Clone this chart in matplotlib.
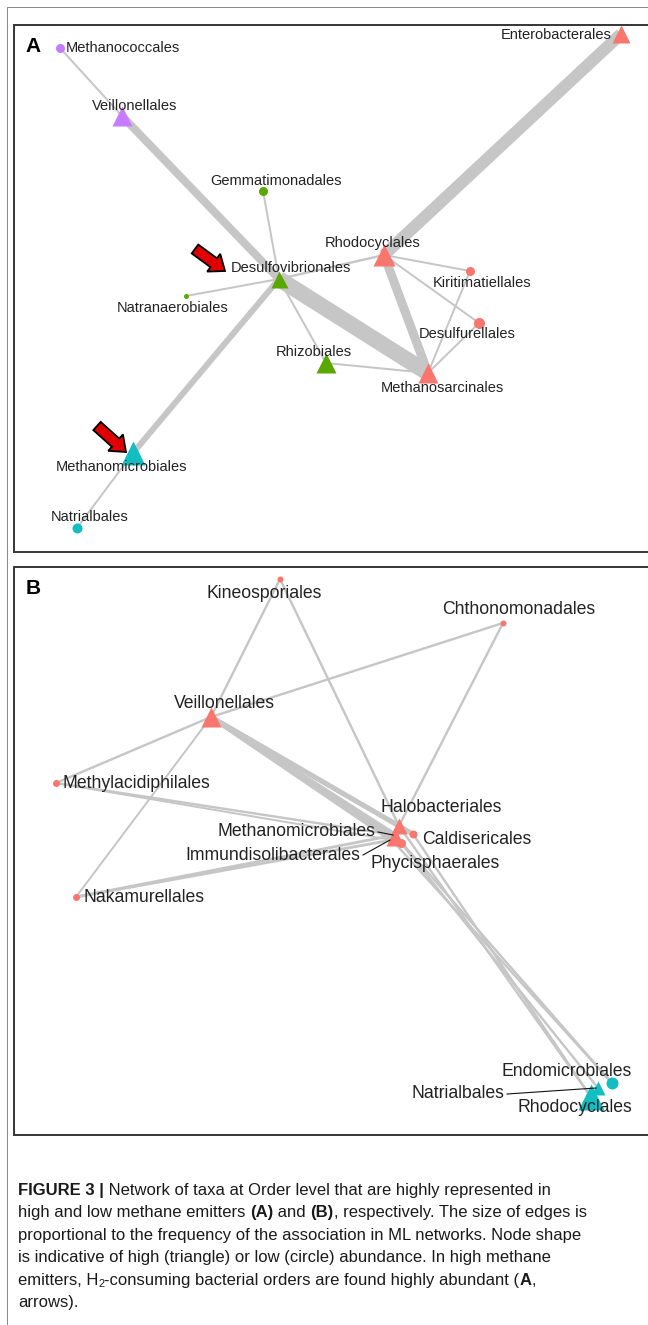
import matplotlib
matplotlib.use("Agg")
import matplotlib.pyplot as plt
from matplotlib.patches import FancyArrow

plt.rcParams['font.family'] = ['Liberation Sans', 'DejaVu Sans']

PT = 0.72  # points per pixel at dpi=100

# colours of the taxonomic groups
COLORS = {"red": "#F8766D", "green": "#5AA700", "cyan": "#12BEC2", "violet": "#C77CFF"}
EDGE_COLOR = "#C6C6C6"

# ---------------- panel A : high methane emitters ----------------
a_names = ["Methanococcales", "Veillonellales", "Enterobacterales", "Gemmatimonadales",
           "Rhodocyclales", "Desulfovibrionales", "Kiritimatiellales", "Natranaerobiales",
           "Desulfurellales", "Rhizobiales", "Methanosarcinales", "Methanomicrobiales",
           "Natrialbales"]
a_x = [46, 108, 607, 249, 370, 265, 456, 172, 465, 312, 414, 119, 63]
a_y = [23, 91, 9, 166, 230, 254, 246, 271, 298, 338, 348, 428, 503]
a_group = ["violet", "violet", "red", "green", "red", "green", "red", "green",
           "red", "green", "red", "cyan", "cyan"]
a_abund = ["low", "high", "high", "low", "high", "high", "low", "low",
           "low", "high", "high", "high", "low"]
a_size = [9, 20, 18, 9, 22, 17, 9, 5, 11, 20, 20, 24, 10]
a_edges = [("Methanococcales", "Veillonellales", 1),
           ("Veillonellales", "Desulfovibrionales", 4),
           ("Enterobacterales", "Rhodocyclales", 6),
           ("Gemmatimonadales", "Desulfovibrionales", 1),
           ("Desulfovibrionales", "Rhodocyclales", 1.2),
           ("Desulfovibrionales", "Methanosarcinales", 8),
           ("Desulfovibrionales", "Natranaerobiales", 1),
           ("Desulfovibrionales", "Rhizobiales", 1),
           ("Desulfovibrionales", "Methanomicrobiales", 3),
           ("Rhodocyclales", "Methanosarcinales", 4.5),
           ("Rhodocyclales", "Kiritimatiellales", 1),
           ("Rhodocyclales", "Desulfurellales", 1),
           ("Kiritimatiellales", "Methanosarcinales", 1),
           ("Desulfurellales", "Methanosarcinales", 1),
           ("Rhizobiales", "Methanosarcinales", 1),
           ("Methanomicrobiales", "Natrialbales", 1)]
# label placement (dx, dy, ha) relative to node
a_labels = [(6, 0, "left"), (13, -10, "center"), (-9, 1, "right"), (13, -10, "center"),
            (-11, -12, "center"), (12, -11, "center"), (12, 12, "center"), (-13, 12, "center"),
            (-12, 11, "center"), (-12, -11, "center"), (14, 15, "center"), (-12, 14, "center"),
            (13, -11, "center")]
# arrows marking H2-consuming orders (tail x, tail y, tip x, tip y)
a_arrows = [(181, 224, 211, 246), (83, 401, 112, 427)]

# ---------------- panel B : low methane emitters ----------------
b_names = ["Kineosporiales", "Chthonomonadales", "Veillonellales", "Methylacidiphilales",
           "Halobacteriales", "Methanomicrobiales", "Caldisericales", "Immundisolibacterales",
           "Phycisphaerales", "Nakamurellales", "Endomicrobiales", "Natrialbales",
           "Rhodocyclales"]
b_x = [266, 489, 197, 42, 385, 381, 399, 378, 387, 62, 598, 584, 577]
b_y = [12, 56, 150, 216, 259, 268, 267, 273, 276, 330, 516, 521, 530]
b_group = ["red"] * 10 + ["cyan"] * 3
b_abund = ["low", "low", "high", "low", "high", "high", "low", "high",
           "low", "low", "low", "high", "high"]
b_size = [6, 6, 20, 7, 16, 14, 8, 12, 9, 7, 12, 14, 26]
b_edges = [("Kineosporiales", "Veillonellales", 1.2),
           ("Kineosporiales", "Halobacteriales", 1.2),
           ("Chthonomonadales", "Veillonellales", 1.2),
           ("Chthonomonadales", "Halobacteriales", 1.2),
           ("Veillonellales", "Methylacidiphilales", 1.2),
           ("Veillonellales", "Nakamurellales", 1),
           ("Veillonellales", "Halobacteriales", 2.4),
           ("Veillonellales", "Methanomicrobiales", 2.4),
           ("Veillonellales", "Immundisolibacterales", 2.4),
           ("Veillonellales", "Phycisphaerales", 2.4),
           ("Veillonellales", "Caldisericales", 2.4),
           ("Methylacidiphilales", "Methanomicrobiales", 1.2),
           ("Methylacidiphilales", "Immundisolibacterales", 1),
           ("Nakamurellales", "Methanomicrobiales", 1.4),
           ("Nakamurellales", "Immundisolibacterales", 1.4),
           ("Halobacteriales", "Rhodocyclales", 1.2),
           ("Methanomicrobiales", "Endomicrobiales", 1.2),
           ("Phycisphaerales", "Natrialbales", 1.2),
           ("Caldisericales", "Rhodocyclales", 1.2),
           ("Immundisolibacterales", "Endomicrobiales", 1.2)]
b_labels = [(-16, 14, "center"), (16, -14, "center"), (13, -14, "center"), (6, 0, "left"),
            (42, -18, "center"), (-20, -3, "right"), (9, 6, "left"), (-32, 15, "right"),
            (34, 21, "center"), (7, 0, "left"), (-45, -12, "center"), (-94, 6, "right"),
            (-16, 11, "center")]
b_leaders = ["Methanomicrobiales", "Immundisolibacterales", "Natrialbales"]

caption = [
    [("FIGURE 3 |", "bold"), (" Network of taxa at Order level that are highly represented in", "normal")],
    [("high and low methane emitters ", "normal"), ("(A)", "bold"), (" and ", "normal"),
     ("(B)", "bold"), (", respectively. The size of edges is", "normal")],
    [("proportional to the frequency of the association in ML networks. Node shape", "normal")],
    [("is indicative of high (triangle) or low (circle) abundance. In high methane", "normal")],
    [("emitters, H", "normal"), ("2", "sub"), ("-consuming bacterial orders are found highly abundant (", "normal"),
     ("A", "bold"), (",", "normal")],
    [("arrows).", "normal")],
]

W, H = 648, 1325
fig = plt.figure(figsize=(W / 100, H / 100), dpi=100)
bg = fig.add_axes([0, 0, 1, 1])
bg.set_xlim(0, W)
bg.set_ylim(H, 0)
bg.axis("off")

# outer frame of the figure
bg.plot([7, 7], [7, H], color="#8a8a8a", lw=1.0 * PT)
bg.plot([7, W], [7, 7], color="#8a8a8a", lw=1.0 * PT)


def panel_axes(top, bottom, left=14, right=700):
    ax = fig.add_axes([left / W, 1 - bottom / H, (right - left) / W, (bottom - top) / H])
    ax.set_xlim(0, right - left)
    ax.set_ylim(bottom - top, 0)
    ax.set_xticks([])
    ax.set_yticks([])
    for s in ax.spines.values():
        s.set_color("#3a3a3a")
        s.set_linewidth(2 * PT)
    return ax


def draw_network(ax, names, xs, ys, groups, abund, sizes, edges, labels, fs, leaders=()):
    pos = {n: (x, y) for n, x, y in zip(names, xs, ys)}
    for s, t, freq in edges:
        (x0, y0), (x1, y1) = pos[s], pos[t]
        ax.plot([x0, x1], [y0, y1], color=EDGE_COLOR, lw=2 * freq * PT,
                solid_capstyle="butt", zorder=1)
    for n, x, y, g, ab, sz in zip(names, xs, ys, groups, abund, sizes):
        ax.plot(x, y, marker="^" if ab == "high" else "o", ms=sz * PT,
                color=COLORS[g], mec="none", zorder=3)
    for n, x, y, (dx, dy, ha) in zip(names, xs, ys, labels):
        ax.text(x + dx, y + dy, n, fontsize=fs, ha=ha, va="center",
                color="#222222", zorder=4)
        if n in leaders:
            ax.plot([x + dx + 3, x - 2], [y + dy, y], color="#111111",
                    lw=1.1 * PT, zorder=5)


ax_a = panel_axes(25, 552)
draw_network(ax_a, a_names, a_x, a_y, a_group, a_abund, a_size, a_edges, a_labels, 10.5)
for x0, y0, x1, y1 in a_arrows:
    ax_a.add_patch(FancyArrow(x0, y0, x1 - x0, y1 - y0, width=11, head_width=22,
                              head_length=14, length_includes_head=True,
                              facecolor="#E00000", edgecolor="black", lw=1.3, zorder=6))
ax_a.text(19, 22, "A", fontsize=15, fontweight="bold", ha="center", va="center")

ax_b = panel_axes(567, 1135)
draw_network(ax_b, b_names, b_x, b_y, b_group, b_abund, b_size, b_edges, b_labels, 12.7,
             leaders=b_leaders)
ax_b.text(19, 21, "B", fontsize=15, fontweight="bold", ha="center", va="center")

# caption, laid out run by run so the bold parts sit inline
renderer = fig.canvas.get_renderer()
cap_fs = 12


def run_width(txt, weight, size):
    probe = bg.text(0, 0, "x" + txt + "x", fontsize=size, fontweight=weight)
    ref = bg.text(0, 0, "xx", fontsize=size, fontweight=weight)
    w = probe.get_window_extent(renderer).width - ref.get_window_extent(renderer).width
    probe.remove()
    ref.remove()
    return w


y = 1190
for line in caption:
    x = 18
    for txt, style in line:
        weight = "bold" if style == "bold" else "normal"
        size = cap_fs * 0.65 if style == "sub" else cap_fs
        dy = 4 if style == "sub" else 0
        bg.text(x, y + dy, txt, fontsize=size, fontweight=weight,
                ha="left", va="center", color="#1a1a1a")
        x += run_width(txt, weight, size)
    y += 22.6

fig.savefig("out.png", dpi=100)
